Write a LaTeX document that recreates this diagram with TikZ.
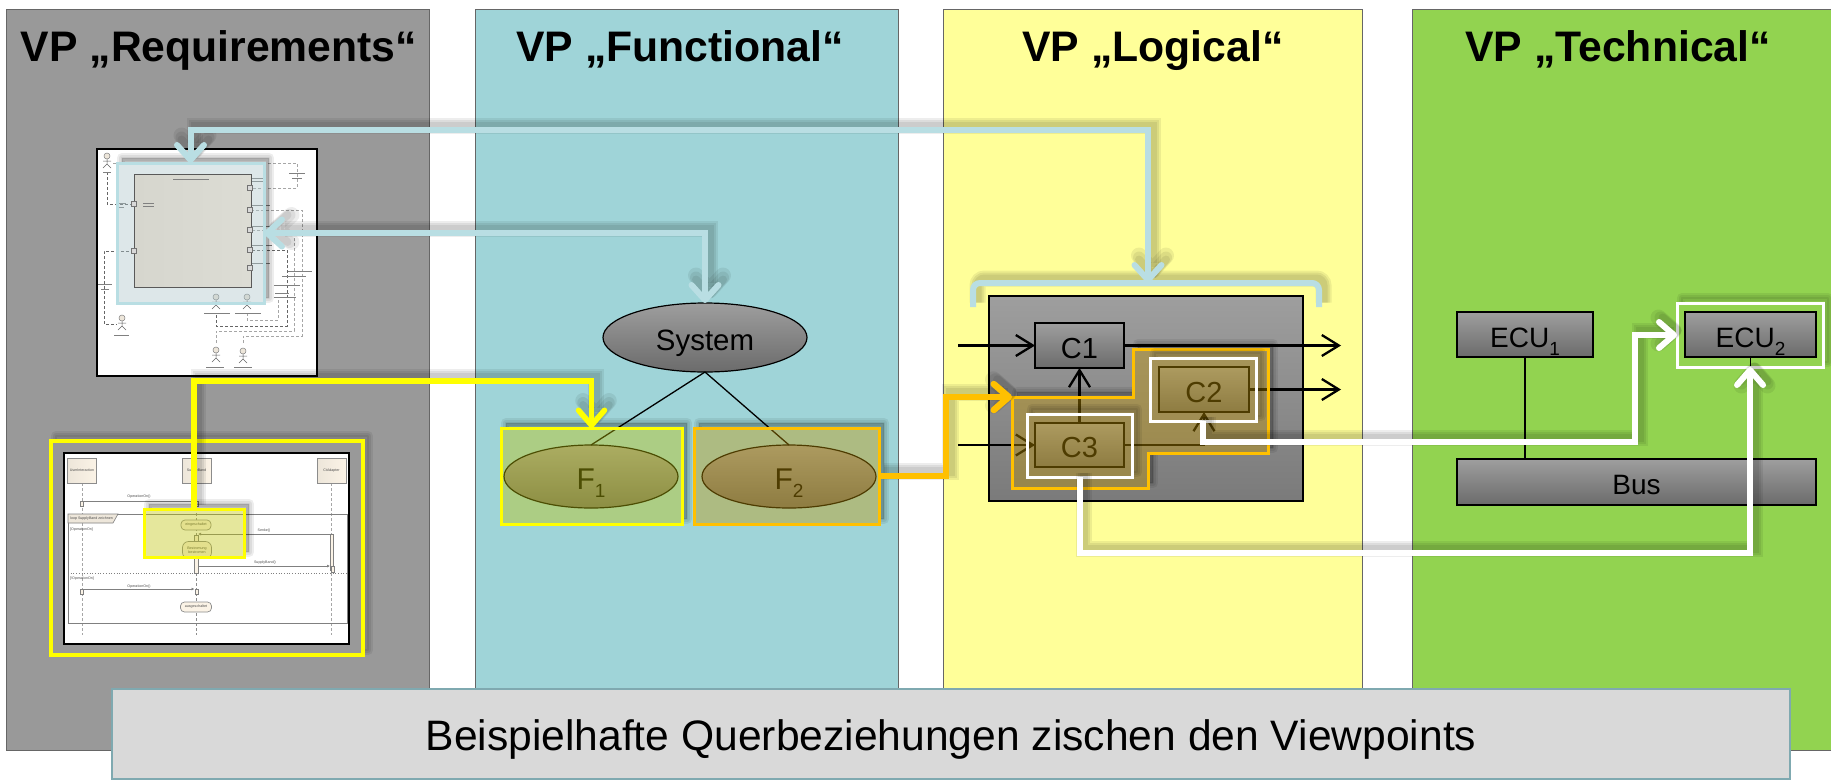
\documentclass[tikz,border=0pt]{standalone}
\usepackage{fontspec}
\setmainfont{Liberation Sans}
\usetikzlibrary{arrows.meta,shapes.geometric}
\definecolor{pgrey}{HTML}{999999}
\definecolor{pblue}{HTML}{9FD4D8}
\definecolor{pyellow}{HTML}{FFFF99}
\definecolor{pgreen}{HTML}{92D350}
\definecolor{linkblue}{HTML}{B9DEE3}
\definecolor{linkorange}{HTML}{FFC000}
\definecolor{linkyellow}{HTML}{FFFF00}
\definecolor{veilyellow}{HTML}{C0C408}
\definecolor{veilorange}{HTML}{C39603}
\definecolor{veilblue}{HTML}{AAC5CA}
\definecolor{creamA}{HTML}{EDE6DA}
\definecolor{creamB}{HTML}{FBF3E6}
\definecolor{blockA}{HTML}{D6D6CE}
\definecolor{blockB}{HTML}{DCDCD4}
\definecolor{bannerline}{HTML}{7FA9B0}
\newcommand\lowsub[1]{\raisebox{-8pt}{\fontsize{19}{19}\selectfont #1}}
\newcommand\softpath[3]{%
  \begin{scope}[transform canvas={xshift=4.5pt,yshift=4.5pt}]
    \foreach \w in {10,6,2}{\draw[#2,draw=black,draw opacity=.07,line width={(#1+\w)*1pt}] #3;}
  \end{scope}
  \draw[#2,line width=#1 pt] #3;}
\newcommand\softbox[7]{%
  \pgfmathsetmacro\cx{(#2+#4)/2}\pgfmathsetmacro\cy{(#3+#5)/2}%
  \begin{scope}[even odd rule]
    \clip (-50,-50) rectangle (1900,850) (#2,#3) rectangle (#4,#5);
    \begin{scope}[transform canvas={xshift=5pt,yshift=5pt}]
      \foreach \w in {10,6,2}{\draw[#7,draw=black,opacity=.07,line width=\w pt,line join=round] (#2,#3) rectangle (#4,#5);}
    \end{scope}
  \end{scope}
  \node[#6,minimum width={(#4-#2)*1pt},minimum height={(#5-#3)*1pt}] (#1) at (\cx,\cy) {};}
\newcommand\port[2]{\node[portbox] at (#1,#2) {};}
\newcommand\tinybar[3]{\fill[black!50] (#1,#2) rectangle ++(#3,1.1);}
\tikzset{
  x=1pt,y=-1pt,
  panel/.style={draw=black!60,line width=1pt},
  title/.style={font=\bfseries\fontsize{42.7}{43}\selectfont,inner sep=0,anchor=base},
  greybox/.style={draw=black,line width=1.2pt,top color=black!38,bottom color=black!58,inner sep=0,outer sep=0,text height=25pt,text depth=0pt,font=\fontsize{29}{29}\selectfont},
  greyoval/.style={greybox,ellipse},
  wire/.style={black,line width=2.3pt},
  thinwire/.style={black,line width=1.3pt},
  openarrow/.style={-{Straight Barb[length=17pt,width=21pt]}},
  bluelink/.style={draw=linkblue,line join=miter},
  whitelink/.style={draw=white,line join=miter,-{Straight Barb[length=15pt,width=26pt,round]}},
  yellowlink/.style={draw=linkyellow,line join=miter,-{Straight Barb[length=15pt,width=26pt,round]}},
  orangelink/.style={draw=linkorange,line join=miter,-{Straight Barb[length=15pt,width=26pt,round]}},
  veilY/.style={draw=linkyellow,line width=3pt,fill=veilyellow,fill opacity=.4,inner sep=0,outer sep=0},
  veilO/.style={draw=linkorange,line width=3pt,fill=veilorange,fill opacity=.4,inner sep=0,outer sep=0},
  frameW/.style={draw=white,line width=3pt,inner sep=0,outer sep=0},
  frameY/.style={draw=linkyellow,line width=3.2pt,inner sep=0,outer sep=0},
  minidash/.style={black!60,line width=.5pt,densely dashed},
  greydash/.style={black!35,line width=.5pt,densely dashed},
  portbox/.style={draw=black!55,fill=black!15,line width=.4pt,minimum size=5pt,inner sep=0},
  tinytext/.style={font=\fontsize{3.6}{4}\selectfont,inner sep=0,text=black!70,align=center},
  lifebox/.style={draw=black!45,line width=.8pt,left color=creamA,right color=creamB,minimum width=29pt,minimum height=25pt,inner sep=0,tinytext},
  pill/.style={draw=black!45,fill=creamB,rounded corners=4pt,line width=.7pt,inner sep=0,tinytext},
  msg/.style={black!50,line width=.9pt},
  act/.style={draw=black!50,fill=creamB,line width=.5pt},
}
\newcommand\actor[2]{%
  \fill[creamA,draw=black!50,line width=.5pt] (#1,#2) circle (3pt);
  \draw[black!60,line width=.5pt] (#1,#2+3) -- ++(0,5) (#1-4,#2+5) -- ++(8,0) (#1-4,#2+12) -- (#1,#2+8) -- (#1+4,#2+12);}
\begin{document}
\begin{tikzpicture}
\useasboundingbox (0,0) rectangle (1831,780);
\fill[white] (0,0) rectangle (1831,780);
% panels
\draw[panel,fill=pgrey] (6,9) rectangle (429,750);
\draw[panel,fill=pblue] (475,9) rectangle (898,750);
\draw[panel,fill=pyellow] (943,9) rectangle (1362,750);
\draw[panel,fill=pgreen] (1412,9) rectangle (1840,750);
\node[title] (t1) at (219,61) {VP „Requirements“};
\node[title] (t2) at (680,61) {VP „Functional“};
\node[title] (t3) at (1153,61) {VP „Logical“};
\node[title] (t4) at (1618,61) {VP „Technical“};

% requirements: block diagram picture
\draw[black,line width=1.5pt,fill=white] (97,149) rectangle (317,376);
\actor{107}{156}
\actor{122}{318}
\actor{216}{297}
\actor{247}{297}
\actor{216}{350}
\actor{243}{351}
\draw[minidash] (107,172) -- (107,204) -- (134,204);
\draw[minidash] (134,251) -- (104,251) -- (104,324) -- (117,324);
\draw[greydash] (113,163) -- (297,163) -- (297,188) -- (250,188);
\draw[minidash] (216,315) -- (216,326) -- (287,326) -- (287,250) -- (250,250);
\draw[greydash] (247,313) -- (247,320) -- (278,320) -- (278,297);
\draw[greydash] (216,343) -- (216,331) -- (294,331) -- (294,230) -- (250,230);
\draw[greydash] (243,343) -- (243,336) -- (302,336) -- (302,210) -- (250,210);
\tinybar{103}{172}{8}\tinybar{114}{335}{15}\tinybar{204}{313}{26}\tinybar{235}{313}{26}
\tinybar{206}{367}{18}\tinybar{234}{367}{18}\tinybar{289}{173}{16}\tinybar{292}{178}{10}
\tinybar{117}{203}{9}\tinybar{118}{207}{6}
\tinybar{252}{178}{14}\tinybar{252}{181}{12}\tinybar{252}{205}{18}\tinybar{252}{226}{20}
\tinybar{252}{245}{20}\tinybar{252}{263}{18}\tinybar{288}{271}{24}\tinybar{282}{276}{24}
\tinybar{274}{285}{26}\tinybar{275}{293}{14}\tinybar{274}{297}{22}\tinybar{98}{284}{14}\tinybar{101}{289}{8}
\softbox{hReq}{117}{163}{264}{303}{draw=none,fill=veilblue,fill opacity=.4,inner sep=0,outer sep=0}{fill=black}
\draw[black!65,line width=.8pt,left color=blockA,right color=blockB] (134,174) rectangle (251,287);
\port{134}{204}\port{134}{251}\port{250}{188}\port{250}{210}\port{250}{230}\port{250}{250}\port{250}{268}
\tinybar{173}{179}{36}\tinybar{143}{203}{11}\tinybar{143}{206}{11}
\draw[draw=linkblue,line width=3pt] (hReq.south west) rectangle (hReq.north east);

% requirements: sequence diagram picture
\softbox{hSeq}{51}{441}{363}{655}{frameY}{}
\draw[black,line width=1.5pt,fill=white] (64,453) rectangle (349,644);
\draw[greydash] (82,483) -- (82,635);
\draw[black!45,line width=.6pt,densely dashed] (196,483) -- (196,635);
\draw[greydash] (331,483) -- (331,635);
\node[lifebox] (ll1) at (82,470.5) {UserInteraction};
\node[lifebox] (ll2) at (196.5,470.5) {SupplyBand};
\node[lifebox] (ll3) at (331.5,470.5) {CtAdapter};
\draw[black!50,line width=.9pt] (68,514) rectangle (347,623);
\draw[black!50,line width=.6pt,fill=creamA] (68,514) -- (118,514) -- (113,523) -- (68,523) -- cycle;
\node[tinytext,anchor=west] (loopt) at (70,518.5) {loop SupplyBand zeichnen};
\node[tinytext,anchor=west] (g1) at (70,530) {[OperationOn]};
\node[tinytext,anchor=west] (g2) at (70,579) {[!OperationOn]};
\draw[black!50,line width=.7pt,dotted] (68,573) -- (347,573);
\draw[msg] (82,501) -- (196,501);
\draw[act] (80.5,501) rectangle (83.5,506);
\draw[act] (195,501) rectangle (198,506);
\node[tinytext] (m1) at (139,497) {OperationOn()};
\draw[act] (194,535) rectangle (198,573);
\draw[act] (330,534) rectangle (333,570);
\draw[act] (331,566) rectangle (334.5,572);
\draw[msg,-{Latex[length=3pt,width=3pt]}] (330,534) -- (198,534);
\node[tinytext] (m2) at (264,531) {Senke()};
\draw[msg,-{Latex[length=3pt,width=3pt]}] (198,566) -- (330,566);
\node[tinytext] (m3) at (265,563) {SupplyBand()};
\draw[msg,-{Latex[length=3pt,width=3pt]}] (82,589) -- (194.5,589);
\draw[act] (80.5,589) rectangle (83.5,594);
\draw[act] (195,589) rectangle (198,594);
\node[tinytext] (m4) at (139,587) {OperationOn()};
\node[pill,minimum width=30pt,minimum height=10pt] (s1) at (196,525) {eingeschaltet};
\node[pill,minimum width=29pt,minimum height=17pt,rounded corners=6pt] (s2) at (197,550) {Bestromung\\bestromen};
\node[pill,minimum width=31pt,minimum height=10pt] (s3) at (196,607) {ausgeschaltet};
\softbox{hSmall}{144}{509}{244}{557}{veilY}{fill=black}

% functional
\node[greyoval,minimum width=204pt,minimum height=69pt] (Sys) at (705,337.5) {\fontsize{29.4}{29}\selectfont System};
\node[greyoval,minimum width=174pt,minimum height=63pt] (F1) at (591,476.5) {\fontsize{30}{30}\selectfont F\lowsub{1}};
\node[greyoval,minimum width=174pt,minimum height=63pt] (F2) at (789,476.5) {\fontsize{30}{30}\selectfont F\lowsub{2}};
\draw[thinwire] (Sys.south) -- (F1.north);
\draw[thinwire] (Sys.south) -- (F2.north);
\softbox{hF1}{501}{428}{682}{524}{veilY}{fill=black}
\softbox{hF2}{694}{428}{879}{524}{veilO}{fill=black}

% logical
\node[draw=black,line width=1.3pt,top color=black!38,bottom color=black!52,minimum width=314pt,minimum height=205pt,inner sep=0,outer sep=0] (Log) at (1146,398.5) {};
\node[greybox,minimum width=89pt,minimum height=45pt] (C1) at (1079.5,345.5) {C1};
\node[greybox,minimum width=90pt,minimum height=45pt] (C2) at (1204,389.5) {C2};
\node[greybox,minimum width=89pt,minimum height=44pt] (C3) at (1079.5,445) {C3};
\coordinate (in1) at (958,345.5);
\coordinate (in3) at (958,445);
\coordinate (out1) at (1341,345.5);
\coordinate (out2) at (1341,389.5);
\draw[wire,openarrow] (in1) -- (C1.west);
\draw[wire,openarrow] (in3) -- (C3.west);
\draw[wire,openarrow] (C1.east) -- (out1);
\draw[wire,openarrow] (C2.east) -- (out2);
\draw[wire,openarrow] (C3.north) -- (C1.south);
\draw[wire,openarrow] (C3.east) -| (C2.south);
\coordinate (polyTip) at (1012,397);
\begin{scope}[even odd rule]
  \clip (-50,-50) rectangle (1900,850) (1012,397) -- (1133,397) -- (1133,349) -- (1268,349) -- (1268,453) -- (1148,453) -- (1148,488) -- (1012,488) -- cycle;
  \begin{scope}[transform canvas={xshift=5pt,yshift=5pt}]
    \foreach \w in {10,6,2}{\draw[draw=black,fill=black,opacity=.07,line width=\w pt,line join=round] (1012,397) -- (1133,397) -- (1133,349) -- (1268,349) -- (1268,453) -- (1148,453) -- (1148,488) -- (1012,488) -- cycle;}
  \end{scope}
\end{scope}
\draw[draw=linkorange,line width=3pt,fill=veilorange,fill opacity=.4] (polyTip) -- (1133,397) -- (1133,349) -- (1268,349) -- (1268,453) -- (1148,453) -- (1148,488) -- (1012,488) -- cycle;
\softbox{hC2}{1150}{358}{1256}{421}{frameW}{}
\softbox{hC3}{1027}{414}{1132}{477}{frameW}{}

% technical
\node[greybox,minimum width=136pt,minimum height=45pt] (E1) at (1525,334.5) {\fontsize{28}{28}\selectfont ECU\lowsub{1}};
\node[greybox,minimum width=131pt,minimum height=45pt] (E2) at (1750.5,334.5) {\fontsize{28}{28}\selectfont ECU\lowsub{2}};
\node[greybox,minimum width=359pt,minimum height=46pt] (Bus) at (1636.5,482) {\fontsize{28}{28}\selectfont Bus};
\draw[thinwire] (E1.south) -- (E1.south |- Bus.north);
\draw[thinwire] (E2.south) -- (E2.south |- Bus.north);
\softbox{hE2}{1677}{303}{1823}{367}{frameW}{}

% cross links
\coordinate (brL) at (973,307);
\coordinate (brR) at (1319,307);
\coordinate (brTop) at (1148,283);
\softpath{6}{draw=linkblue,rounded corners=7pt}{(brL) -- (973,283) -- (1319,283) -- (brR)}
\softpath{6}{bluelink,{Straight Barb[length=15pt,width=27pt,round]}-{Straight Barb[length=15pt,width=27pt,round]}}{(brTop) -- ++(0,-153) -| (hReq.north)}
\softpath{6}{bluelink,{Straight Barb[length=15pt,width=27pt,round]}-{Straight Barb[length=15pt,width=27pt,round]}}{(Sys.north) |- (hReq.east)}
\softpath{5.5}{yellowlink}{(hSmall.north) -- ++(0,-128) -| (hF1.north)}
\softpath{6.5}{orangelink}{(hF2.east) -- ++(67,0) |- (polyTip)}
\softpath{6}{whitelink}{(hC2.south) -- ++(0,21) -- ++(432,0) |- (hE2.west)}
\softpath{6}{whitelink}{(hC3.south) -- ++(0,76) -| (hE2.south)}

% banner
\node[draw=bannerline,line width=2pt,fill=black!15,minimum width=1678pt,minimum height=90pt,inner sep=0,outer sep=0,font=\fontsize{42.6}{43}\selectfont] (banner) at (951,734) {\smash{\raisebox{-16pt}{Beispielhafte Querbeziehungen zischen den Viewpoints}}};
\end{tikzpicture}
\end{document}
